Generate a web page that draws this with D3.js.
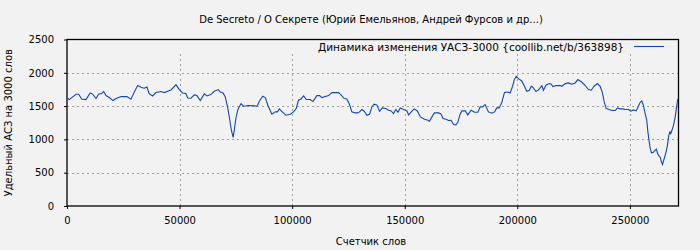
<!DOCTYPE html>
<html>
<head>
<meta charset="utf-8">
<script src="https://cdn.jsdelivr.net/npm/d3@7"></script>
<style>
  body { margin: 0; background: #f2f2f2; }
  svg text { font-family: "DejaVu Sans", sans-serif; font-size: 10px; fill: #000; }
</style>
</head>
<body>
<div id="chart"></div>
<script>
const width = 700;
const height = 250;

const title = "De Secreto / О Секрете (Юрий Емельянов, Андрей Фурсов и др...)";
const seriesName = "Динамика изменения УАСЗ-3000 {coollib.net/b/363898}";
const xTitle = "Счетчик слов";
const yTitle = "Удельный АСЗ на 3000 слов";

const xTicks = [0, 50000, 100000, 150000, 200000, 250000];
const yTicks = [0, 500, 1000, 1500, 2000, 2500];

// word counter (x)
const wordCount = [
   0, 1000, 4000, 5200, 6500, 8400, 10300, 11400, 12900, 14000,
   15400, 16300, 17300, 18800, 20400, 21800, 24000, 26600, 28400, 29900,
   31400, 33100, 34300, 35500, 36500, 38000, 39500, 41700, 43200, 45000,
   46200, 48400, 49900, 51300, 52800, 53600, 55100, 56500, 57700, 59200,
   61000, 62200, 63900, 65400, 67200, 68100, 69300, 70300, 71300, 72200,
   73000, 73800, 74300, 75000, 75900, 77300, 78400, 80600, 83300, 84400,
   85500, 86900, 88100, 89200, 91000, 92500, 93500, 94300, 95500, 97200,
   99200, 100600, 101800, 102800, 103900, 105100, 106300, 108000, 109200, 111000,
   112200, 113200, 115100, 116200, 117700, 120600, 121700, 123100, 124300, 125500,
   126500, 128000, 129200, 129900, 131000, 132000, 133200, 134400, 135400, 136400,
   137600, 138800, 140100, 141600, 142800, 144000, 145000, 146100, 147000, 148000,
   149500, 151000, 151700, 152900, 154200, 155700, 156900, 158800, 160300, 161000,
   162100, 163200, 165000, 166100, 167000, 168400, 169400, 170600, 171700, 172700,
   173600, 174600, 175400, 176900, 178000, 179500, 181000, 182500, 183500, 184500,
   185700, 187200, 188700, 189900, 190900, 192000, 193100, 194300, 195800, 196800,
   197900, 198700, 199500, 200500, 202000, 203200, 204200, 205300, 206200, 206800,
   208300, 209400, 210900, 211600, 212800, 214300, 215100, 215800, 217300, 219100,
   219800, 221300, 222700, 224200, 225700, 226900, 228700, 230100, 231600, 232800,
   234100, 235600, 236800, 237700, 238600, 239500, 240800, 242000, 243500, 244500,
   245700, 246900, 247900, 249400, 250400, 251600, 252800, 253800, 254600, 255300,
   256000, 256800, 257500, 258000, 258600, 259000, 259600, 260500, 261200, 261800,
   262300, 263000, 263500, 264000, 264500, 264900, 265500, 266100, 266700, 267300,
   267800, 268200, 268800, 269400, 270100, 270800, 271300
];

// specific ASZ per 3000 words (y)
const asz = [
   1622, 1598, 1678, 1678, 1607, 1598, 1697, 1680, 1613, 1678,
   1690, 1718, 1658, 1628, 1583, 1613, 1643, 1643, 1603, 1712,
   1808, 1778, 1768, 1787, 1688, 1652, 1703, 1718, 1703, 1727,
   1742, 1823, 1748, 1697, 1688, 1622, 1618, 1668, 1658, 1583,
   1683, 1652, 1673, 1723, 1748, 1712, 1697, 1637, 1488, 1314,
   1138, 1029, 1138, 1314, 1449, 1538, 1498, 1508, 1503, 1498,
   1578, 1648, 1628, 1513, 1378, 1413, 1413, 1458, 1418, 1363,
   1378, 1413, 1463, 1588, 1607, 1652, 1598, 1598, 1568, 1658,
   1658, 1628, 1648, 1658, 1703, 1703, 1668, 1613, 1608, 1523,
   1413, 1398, 1398, 1413, 1449, 1423, 1363, 1378, 1488, 1528,
   1518, 1423, 1473, 1463, 1438, 1428, 1388, 1449, 1408, 1473,
   1449, 1428, 1368, 1413, 1458, 1423, 1338, 1303, 1288, 1273,
   1338, 1398, 1398, 1383, 1314, 1303, 1283, 1288, 1224, 1219,
   1258, 1378, 1428, 1428, 1368, 1438, 1408, 1408, 1488, 1488,
   1523, 1413, 1393, 1413, 1473, 1473, 1553, 1703, 1712, 1697,
   1798, 1898, 1947, 1913, 1877, 1798, 1723, 1733, 1798, 1787,
   1718, 1743, 1808, 1738, 1818, 1838, 1828, 1793, 1808, 1808,
   1798, 1838, 1848, 1828, 1848, 1898, 1858, 1813, 1748, 1738,
   1798, 1838, 1798, 1712, 1563, 1463, 1449, 1433, 1433, 1473,
   1458, 1458, 1449, 1449, 1423, 1443, 1428, 1498, 1558, 1578,
   1513, 1388, 1288, 1113, 963, 873, 798, 808, 838, 853,
   789, 749, 729, 664, 624, 674, 739, 813, 913, 1063,
   1113, 1088, 1148, 1213, 1330, 1500, 1610
];

const xMax = 271600;
const yMax = 2500;

const margin = { top: 39.5, right: 21.5, bottom: 44, left: 67 };

const svg = d3.select("#chart").append("svg")
   .attr("width", width)
   .attr("height", height)
   .style("background", "#f2f2f2");

const x = d3.scaleLinear()
   .domain([0, xMax])
   .range([margin.left, width - margin.right]);

const y = d3.scaleLinear()
   .domain([0, yMax])
   .range([height - margin.bottom, margin.top]);

const data = wordCount.map((d, i) => ({ wc: d, v: asz[i] }));

// grid
const grid = svg.append("g")
   .attr("stroke", "#a0a0a0")
   .attr("stroke-width", 1)
   .attr("stroke-dasharray", "2,3")
   .attr("shape-rendering", "crispEdges");

grid.selectAll("line.hgrid")
   .data(yTicks.filter(d => d > 0 && d < yMax))
   .enter().append("line")
   .attr("class", "hgrid")
   .attr("x1", x(0)).attr("x2", x(xMax))
   .attr("y1", d => Math.round(y(d)) + 0.5)
   .attr("y2", d => Math.round(y(d)) + 0.5);

grid.selectAll("line.vgrid")
   .data(xTicks.filter(d => d > 0))
   .enter().append("line")
   .attr("class", "vgrid")
   .attr("x1", d => Math.round(x(d)) + 0.5)
   .attr("x2", d => Math.round(x(d)) + 0.5)
   .attr("y1", y(0))
   .attr("y2", 53);

// axes
const xAxis = svg.append("g")
   .attr("transform", `translate(0,${y(0)})`)
   .call(d3.axisBottom(x).tickValues(xTicks).tickSize(3).tickPadding(8).tickFormat(d3.format("d")));

const yAxis = svg.append("g")
   .attr("transform", `translate(${x(0)},0)`)
   .call(d3.axisLeft(y).tickValues(yTicks).tickSize(3).tickPadding(10).tickFormat(d3.format("d")));

[xAxis, yAxis].forEach(a => {
   a.select(".domain").remove();
   a.selectAll("text").style("font-family", "DejaVu Sans").style("font-size", "10px");
   a.selectAll("line").attr("stroke", "#000");
});

// border
svg.append("rect")
   .attr("x", x(0))
   .attr("y", y(yMax))
   .attr("width", x(xMax) - x(0))
   .attr("height", y(0) - y(yMax))
   .attr("fill", "none")
   .attr("stroke", "#000")
   .attr("stroke-width", 1.3);

// series line
const line = d3.line()
   .x(d => x(d.wc))
   .y(d => y(d.v));

svg.append("path")
   .datum(data)
   .attr("fill", "none")
   .attr("stroke", "#1248b0")
   .attr("stroke-width", 1.1)
   .attr("d", line);

// legend
svg.append("text")
   .attr("x", 624)
   .attr("y", 51)
   .style("text-anchor", "end")
   .style("font-size", "10.5px")
   .text(seriesName);
svg.append("line")
   .attr("x1", 634).attr("x2", 664)
   .attr("y1", 46.5).attr("y2", 46.5)
   .attr("stroke", "#1248b0")
   .attr("stroke-width", 1.1);

// titles
svg.append("text")
   .attr("x", 371)
   .attr("y", 23)
   .style("text-anchor", "middle")
   .text(title);

svg.append("text")
   .attr("x", 371)
   .attr("y", 245)
   .style("text-anchor", "middle")
   .text(xTitle);

svg.append("text")
   .attr("transform", `translate(12,${(y(0) + y(yMax)) / 2}) rotate(-90)`)
   .style("text-anchor", "middle")
   .text(yTitle);
</script>
</body>
</html>
